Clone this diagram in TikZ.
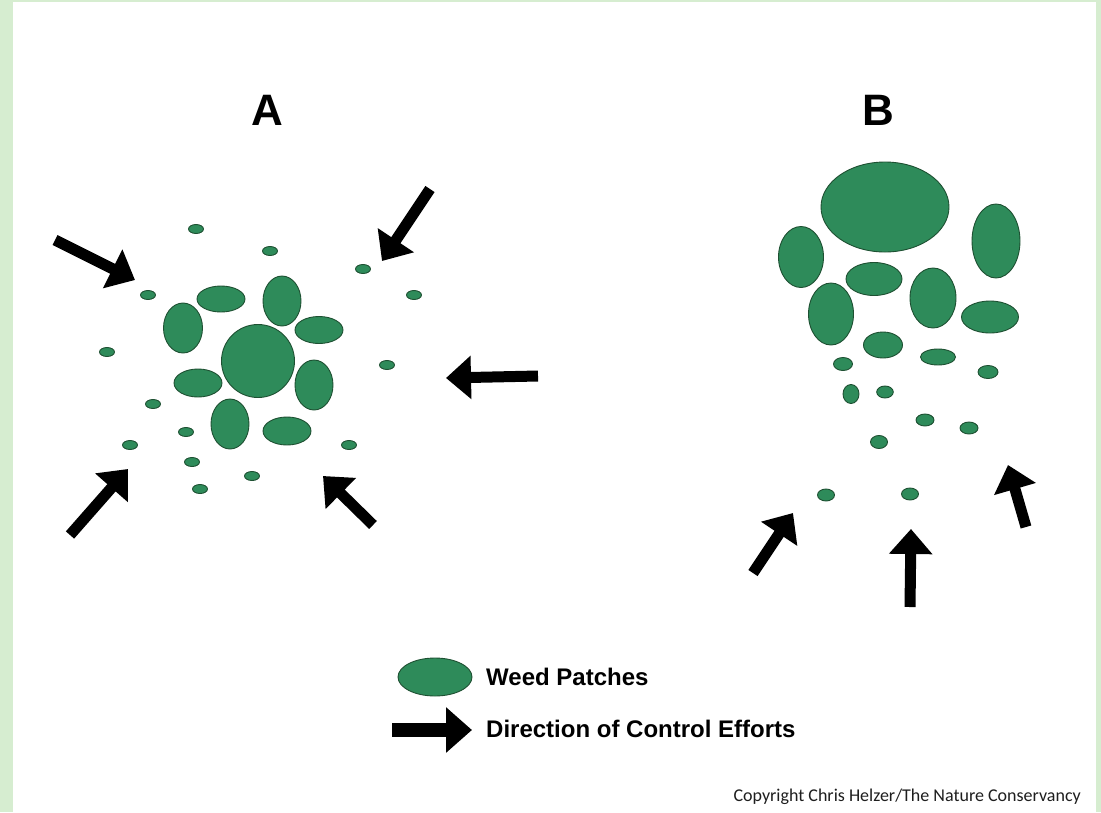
\documentclass[tikz,border=0pt]{standalone}
\usepackage{fontspec}
\setmainfont{Liberation Sans}
\newfontfamily\carl{Carlito}
\usetikzlibrary{arrows.meta}
\definecolor{bggreen}{RGB}{214,237,208}
\definecolor{weedfill}{RGB}{46,139,90}
\definecolor{weededge}{RGB}{30,80,50}
\definecolor{copygray}{RGB}{30,30,30}
\tikzset{
  weed/.style={fill=weedfill, draw=weededge, line width=0.9pt},
  ctrl/.style={line width=11pt, -{Triangle[length=25pt,width=42pt]}},
  legarrow/.style={line width=14pt, -{Triangle[length=26pt,width=44pt]}},
  title/.style={font=\bfseries\fontsize{44}{44}\selectfont, inner sep=0pt},
  legtext/.style={font=\bfseries\fontsize{24}{24}\selectfont, inner sep=0pt, anchor=west},
}
\newcommand\weedpatch[4]{\draw[weed] (#1,#2) ellipse [x radius=#3pt, y radius=#4pt];}
\newcommand\smalldot[2]{\weedpatch{#1}{#2}{7.5}{4.5}}
\newcommand\ctrlarrow[4]{\draw[ctrl] (#1,#2) -- (#3,#4);}
\begin{document}
\begin{tikzpicture}[x=1pt,y=-1pt]
\useasboundingbox (0,0) rectangle (1101,812);
\fill[bggreen] (0,0) rectangle (1101,812);
\fill[white] (13,2) rectangle (1096,812);

% titles
\node[title] (tA) at (267,110) {A};
\node[title] (tB) at (878,110) {B};

% ---------- Panel A ----------
\weedpatch{258}{361}{36.5}{36.5}
\weedpatch{221}{299}{24}{13}
\weedpatch{183}{328}{19.5}{25}
\weedpatch{282}{301}{19}{25}
\weedpatch{319}{330}{24}{13.5}
\weedpatch{314}{385}{19}{25}
\weedpatch{198}{383}{24}{14}
\weedpatch{230}{424}{19}{25}
\weedpatch{287}{431}{24}{14}
% small dots A
\smalldot{196}{229}
\smalldot{270}{251}
\smalldot{363}{269}
\smalldot{414}{295}
\smalldot{387}{365}
\smalldot{148}{295}
\smalldot{107}{352}
\smalldot{153}{404}
\smalldot{130}{445}
\smalldot{186}{432}
\smalldot{192}{462}
\smalldot{200}{489}
\smalldot{252}{476}
\smalldot{349}{445}
% arrows A
\ctrlarrow{55}{240}{135}{280}
\ctrlarrow{430}{189}{382}{261}
\ctrlarrow{538}{376}{446}{378}
\ctrlarrow{70}{535}{128}{469}
\ctrlarrow{373}{525}{323}{476}

% ---------- Panel B ----------
\weedpatch{885}{207}{64}{45}
\weedpatch{801}{257}{22.5}{30.5}
\weedpatch{996}{241}{24}{37}
\weedpatch{874}{279}{28}{16.5}
\weedpatch{831}{314}{22.5}{31}
\weedpatch{933}{298}{23}{30}
\weedpatch{990}{317}{28.5}{16}
\weedpatch{883}{345}{19.5}{13}
\weedpatch{843}{364}{9.5}{6.5}
\weedpatch{938}{357}{17.5}{8}
\weedpatch{988}{372}{10}{6.5}
\weedpatch{851}{394}{8}{9.5}
\weedpatch{885}{392}{8.3}{6}
\weedpatch{925}{420}{9}{6}
\weedpatch{969}{428}{9}{6}
\weedpatch{879}{442}{8.5}{6.5}
\weedpatch{826}{495}{8.5}{6}
\weedpatch{910}{494}{8.5}{6}
% arrows B
\ctrlarrow{753}{573}{793}{513}
\ctrlarrow{910}{607}{911}{529}
\ctrlarrow{1026}{527}{1008}{465}

% ---------- Legend ----------
\weedpatch{435}{677}{37}{19}
\node[legtext] (l1) at (486,677) {Weed Patches};
\coordinate (la1) at (392,730);
\coordinate (la2) at (472,730);
\draw[legarrow] (la1) -- (la2);
\node[legtext] (l2) at (486,729) {Direction of Control Efforts};

% copyright
\node[font=\carl\fontsize{18}{18}\selectfont, text=copygray, inner sep=0pt, anchor=east] (cr) at (1081,797) {Copyright Chris Helzer/The Nature Conservancy};
\end{tikzpicture}
\end{document}
